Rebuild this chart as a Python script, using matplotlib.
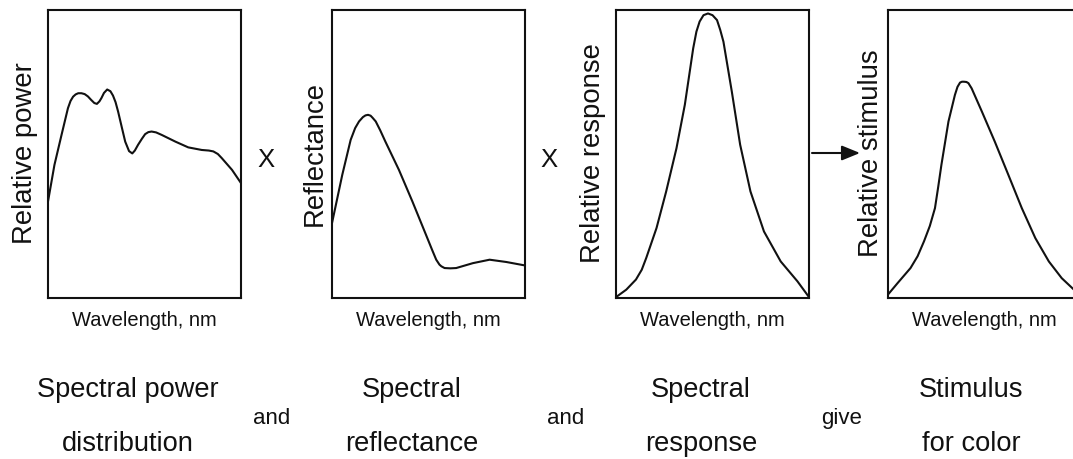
import matplotlib.pyplot as plt

plt.rcParams['font.family'] = ['Liberation Sans', 'DejaVu Sans']

# curves (wavelength in nm, relative value 0..1)
power_nm = [400, 410, 421, 431, 435, 439, 443, 447, 452, 457, 462, 467, 472, 476, 480, 483,
            487, 492, 497, 501, 505, 509, 515, 520, 526, 531, 535, 540, 546, 551, 556, 561,
            568, 577, 598, 618, 639, 650, 657, 664, 670, 686, 700]
power_val = [.335, .462, .566, .659, .684, .699, .707, .711, .711, .708, .700, .688, .677, .674,
             .683, .694, .712, .724, .718, .703, .680, .647, .590, .543, .510, .502, .512,
             .532, .553, .569, .576, .578, .575, .566, .543, .523, .514, .512, .509, .500,
             .486, .445, .399]

refl_nm = [400, 416, 429, 436, 442, 448, 452, 456, 460, 463, 468, 475, 483, 504, 525, 546,
           556, 562, 567, 570, 575, 584, 593, 619, 645, 671, 700]
refl_val = [.260, .428, .549, .590, .613, .628, .634, .636, .633, .626, .613, .582, .543, .445,
            .335, .220, .165, .133, .116, .110, .104, .103, .104, .121, .133, .125, .113]

resp_nm = [400, 416, 431, 440, 447, 463, 478, 494, 507, 520, 525, 530, 536, 543, 550,
           557, 562, 567, 580, 593, 609, 630, 656, 682, 700]
resp_val = [.003, .029, .064, .098, .139, .243, .370, .520, .671, .867, .925, .960, .982, .988,
            .982, .965, .931, .890, .717, .532, .370, .231, .127, .058, .003]

stim_nm = [400, 415, 435, 446, 456, 465, 473, 478, 483, 494, 504, 508, 512, 515, 518, 522,
           525, 530, 546, 566, 587, 608, 629, 650, 670, 689, 700]
stim_val = [.012, .052, .104, .145, .197, .250, .312, .385, .462, .613, .705, .733, .748, .751,
            .751, .750, .746, .728, .647, .543, .428, .312, .208, .127, .069, .029, .005]

ylabels = ['Relative power', 'Reflectance', 'Relative response', 'Relative stimulus']
xlabel = 'Wavelength, nm'
captions = [('Spectral power', 'distribution'), ('Spectral', 'reflectance'),
            ('Spectral', 'response'), ('Stimulus', 'for color')]
joiners = ['and', 'and', 'give']

W, H = 1073, 459
fig = plt.figure(figsize=(W / 100, H / 100), dpi=100)
ink = '#111111'

panel_left = [48, 332, 616, 888]
label_x = [32, 322, 600, 878]
series = [(power_nm, power_val), (refl_nm, refl_val), (resp_nm, resp_val), (stim_nm, stim_val)]

for i, (xs, ys) in enumerate(series):
    ax = fig.add_axes([panel_left[i] / W, (H - 298) / H, 193 / W, 288 / H])
    ax.plot(xs, ys, color=ink, lw=1.5, clip_on=False,
            solid_capstyle='round', solid_joinstyle='round')
    ax.set_xlim(400, 700)
    ax.set_ylim(0, 1)
    ax.set_xticks([])
    ax.set_yticks([])
    for s in ax.spines.values():
        s.set_linewidth(1.5)
        s.set_color(ink)
    ax.set_xlabel(xlabel, fontsize=14.5, color=ink, labelpad=9)
    fig.text(label_x[i] / W, 1 - 153.5 / H, ylabels[i], rotation=90, rotation_mode='anchor',
             ha='center', va='baseline', fontsize=19.8, color=ink)

# captions under the panels
cap_x = [128, 412, 701, 971]
for cx, (top, bottom) in zip(cap_x, captions):
    fig.text(cx / W, 1 - 397 / H, top, ha='center', va='baseline', fontsize=19.6, color=ink)
    fig.text(cx / W, 1 - 451 / H, bottom, ha='center', va='baseline', fontsize=19.6, color=ink)
for jx, word in zip([272, 566, 842], joiners):
    fig.text(jx / W, 1 - 424 / H, word, ha='center', va='baseline', fontsize=16, color=ink)

# operators between panels
for mx in [266, 549]:
    fig.text(mx / W, 1 - 167 / H, 'X', ha='center', va='baseline', fontsize=18.5, color=ink)
fig.add_artist(plt.matplotlib.patches.FancyArrowPatch(
    (812, H - 153), (860, H - 153), transform=None,
    arrowstyle='-|>,head_length=1.1,head_width=0.45', mutation_scale=10,
    color=ink, lw=1.5, shrinkA=0, shrinkB=0))

fig.savefig('out.png', dpi=100, facecolor='white')
